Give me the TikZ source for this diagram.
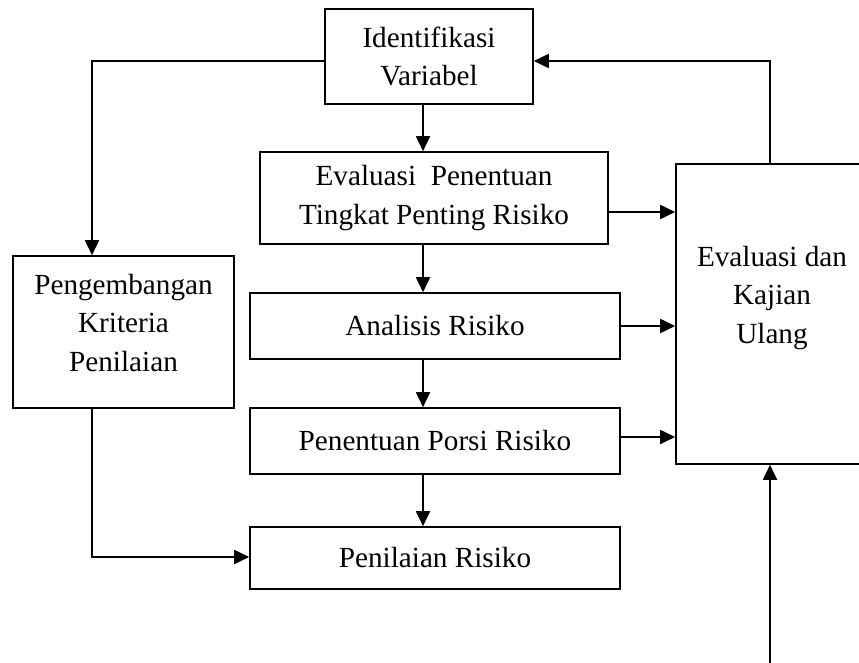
\documentclass[tikz,border=0pt]{standalone}
\usepackage{fontspec}
\setmainfont{Liberation Serif}
\usetikzlibrary{arrows.meta}
\begin{document}
\begin{tikzpicture}[x=1bp,y=-1bp,
  box/.style={draw,line width=1.6bp,inner sep=0pt,align=center},
  txt/.style={inner sep=0pt,align=center},
  arr/.style={line width=1.8bp,-{Triangle[length=15bp,width=14bp]}},
  font=\fontsize{29.2bp}{38.5bp}\selectfont]
\useasboundingbox (0,0) rectangle (859,663);
\node[box,minimum width=208bp,minimum height=95bp] (id) at (429,56.5) {Identifikasi\\Variabel};
\node[box,minimum width=348bp,minimum height=92bp] (ep) at (434,198) {Evaluasi~ Penentuan\\Tingkat Penting Risiko};
\node[box,minimum width=370bp,minimum height=66bp] (an) at (435,326) {Analisis Risiko};
\node[box,minimum width=370bp,minimum height=66bp] (pp) at (435,441) {Penentuan Porsi Risiko};
\node[box,minimum width=370bp,minimum height=62bp] (pen) at (435,558) {Penilaian Risiko};
\node[box,minimum width=221bp,minimum height=152bp] (peng) at (123.5,332) {};
\node[txt] (pengt) at (123.5,323) {Pengembangan\\Kriteria\\Penilaian};
\node[box,minimum width=194bp,minimum height=300bp] (eval) at (773,314) {};
\node[txt] (evalt) at (772,298) {Evaluasi dan\\Kajian\\Ulang};
\coordinate (mx) at (423,0);
\coordinate (lx) at (92,0);
\coordinate (rx) at (770,0);
\coordinate (fy) at (0,61);
\coordinate (e1) at (0,212);
\coordinate (e3) at (0,437);
\coordinate (by) at (0,557);
\coordinate (bot) at (770,663);
\draw[arr] (id.south -| mx) -- (ep.north -| mx);
\draw[arr] (ep.south -| mx) -- (an.north -| mx);
\draw[arr] (an.south -| mx) -- (pp.north -| mx);
\draw[arr] (pp.south -| mx) -- (pen.north -| mx);
\draw[arr] (id.west |- fy) -| (peng.north -| lx);
\draw[arr] (eval.north -| rx) |- (id.east |- fy);
\draw[arr] (ep.east |- e1) -- (eval.west |- e1);
\draw[arr] (an.east) -- (an.east -| eval.west);
\draw[arr] (pp.east |- e3) -- (eval.west |- e3);
\draw[arr] (peng.south -| lx) |- (pen.west |- by);
\draw[arr] (bot) -- (eval.south -| rx);
\end{tikzpicture}
\end{document}
